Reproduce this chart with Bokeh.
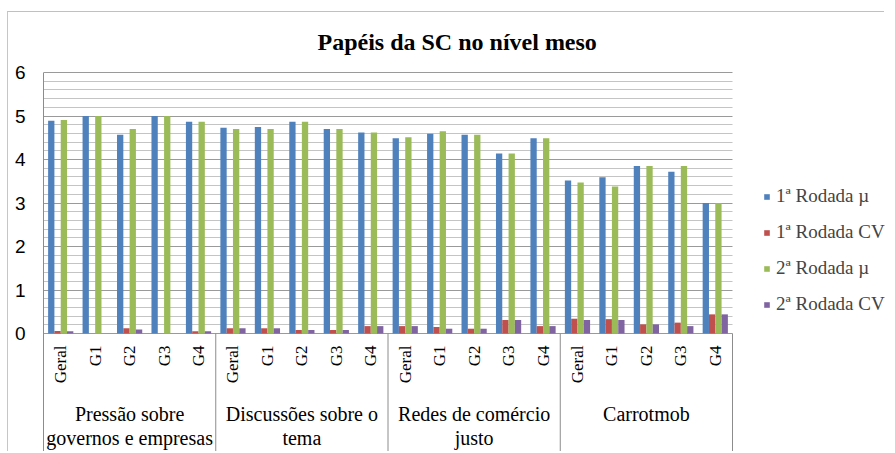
import numpy as np
from bokeh.plotting import figure
from bokeh.models import (Range1d, FixedTicker, Legend, LegendItem, Label)
from bokeh.core.properties import value
from bokeh.embed import file_html
from bokeh.resources import INLINE

# ---- data ----
groups = ["Pressão sobre\ngovernos e empresas", "Discussões sobre o\ntema",
          "Redes de comércio\njusto", "Carrotmob"]
subgroups = ["Geral", "G1", "G2", "G3", "G4"]
series_names = ["1ª Rodada µ", "1ª Rodada CV", "2ª Rodada µ", "2ª Rodada CV"]
r1_mu = [4.89, 5.00, 4.57, 5.00, 4.87,
         4.73, 4.75, 4.87, 4.70, 4.62,
         4.49, 4.59, 4.57, 4.14, 4.49,
         3.52, 3.59, 3.85, 3.72, 3.00]
r1_cv = [0.06, 0.00, 0.12, 0.00, 0.05,
         0.12, 0.12, 0.08, 0.08, 0.17,
         0.17, 0.15, 0.11, 0.31, 0.17,
         0.34, 0.33, 0.21, 0.25, 0.44]
r2_mu = [4.91, 5.00, 4.70, 5.00, 4.87,
         4.70, 4.70, 4.87, 4.70, 4.62,
         4.51, 4.65, 4.57, 4.14, 4.49,
         3.47, 3.38, 3.85, 3.85, 3.00]
r2_cv = [0.05, 0.00, 0.09, 0.00, 0.05,
         0.12, 0.12, 0.08, 0.08, 0.17,
         0.17, 0.11, 0.11, 0.31, 0.17,
         0.31, 0.31, 0.21, 0.17, 0.44]
y_ticks = [0, 1, 2, 3, 4, 5, 6]
title_text = "Papéis da SC no nível meso"

colors = ["#4F81BD", "#C0504D", "#9BBB59", "#8064A2"]
serif = value("Liberation Serif")

n_sub = len(subgroups)
n_cat = len(groups) * n_sub
centers = np.arange(n_cat) + 0.5
labels = subgroups * len(groups)

# page geometry (px)
ox, oy = 8, 12              # canvas origin on the page (after border)
W, H = 885 - ox, 452 - oy   # canvas size
left = 43 - ox              # left border for the y axis
top6, axis0 = 72 - oy, 333 - oy   # canvas rows of value 6 and value 0
plot_w = 689                # width of the bar area
px_per_unit = (axis0 - top6) / y_ticks[-1]
y_top = y_ticks[-1] + top6 / px_per_unit
y_bottom = -(H - axis0) / px_per_unit
x_end = n_cat * (W - left) / plot_w

p = figure(width=W, height=H, output_backend="svg", toolbar_location=None,
           x_range=Range1d(0, x_end), y_range=Range1d(y_bottom, y_top),
           x_axis_location=None, min_border_left=left, min_border_right=0,
           min_border_top=0, min_border_bottom=0)
p.outline_line_color = None
p.background_fill_color = "white"
p.border_fill_color = "white"
p.styles = {"margin-left": "7px", "margin-top": "11px",
            "border-top": "1px solid #c0c0c0", "border-left": "1px solid #c6c6c6"}

p.add_layout(Label(text=title_text, x=317 - 43, y=H - (41 - oy),
                   x_units="screen", y_units="screen",
                   text_font="Liberation Serif", text_font_size="24px",
                   text_font_style="bold", text_baseline="alphabetic",
                   text_align="left", text_color="black"))

minor = [i / 5 for i in range(y_ticks[-1] * 5 + 1) if i % 5]
ticker = FixedTicker(ticks=y_ticks, minor_ticks=minor)
p.yaxis.ticker = ticker
p.yaxis.bounds = (y_bottom, y_ticks[-1])
p.yaxis.major_tick_out = 0
p.yaxis.major_tick_in = 0
p.yaxis.minor_tick_out = 0
p.yaxis.minor_tick_in = 0
p.yaxis.major_label_standoff = 18
p.yaxis.major_label_text_font = "Liberation Sans"
p.yaxis.major_label_text_font_size = "19px"
p.yaxis.major_label_text_color = "black"
p.yaxis.axis_line_color = "#8c8c8c"
p.xgrid.visible = False

grid = p.ygrid[0]
if "cross_bounds" in grid.properties():
    grid.cross_bounds = (0, n_cat)
    grid.grid_line_color = "#9a9a9a"
    grid.minor_grid_line_color = "#c4c4c4"
else:
    grid.visible = False
    p.segment(x0=np.zeros(len(minor)), x1=np.full(len(minor), n_cat), y0=minor, y1=minor,
              line_color="#c4c4c4", line_width=1)
    p.segment(x0=np.zeros(len(y_ticks)), x1=np.full(len(y_ticks), n_cat), y0=y_ticks, y1=y_ticks,
              line_color="#9a9a9a", line_width=1)

bar_w = 0.183
offsets = (np.arange(4) - 1.5) * bar_w
renderers = []
for vals, off, col in zip([r1_mu, r1_cv, r2_mu, r2_cv], offsets, colors):
    r = p.vbar(x=centers + off, top=vals, bottom=0, width=bar_w,
               fill_color=col, line_color=None)
    renderers.append(r)

# subgroup tick labels (rotated)
p.text(x=centers, y=np.zeros(n_cat), text=labels, angle=np.pi / 2,
       text_align="right", text_baseline="middle", y_offset=12,
       text_font=serif, text_font_size=value("17px"), text_color="black")

# group labels
gcenters = np.arange(len(groups)) * n_sub + n_sub / 2
p.text(x=gcenters, y=np.zeros(len(groups)), text=groups, text_align="center",
       text_baseline="top", y_offset=69, text_line_height=1.12,
       text_font=serif, text_font_size=value("20px"), text_color="black")

# separators in the category axis area
seps = np.arange(1, len(groups) + 1) * n_sub
p.segment(x0=seps, x1=seps, y0=np.zeros(len(seps)), y1=np.full(len(seps), y_bottom),
          line_color="#8c8c8c", line_width=1)

legend = Legend(items=[LegendItem(label=n, renderers=[r]) for n, r in zip(series_names, renderers)],
                location=(763 - 43, H - (315 - oy)), glyph_width=7, glyph_height=7,
                label_standoff=6,
                label_text_font="Liberation Serif", label_text_font_size="19px",
                label_height=20, spacing=14, padding=0, margin=0,
                border_line_color=None, background_fill_alpha=0)
p.add_layout(legend, "center")

open("out.html", "w").write(file_html(p, INLINE))
